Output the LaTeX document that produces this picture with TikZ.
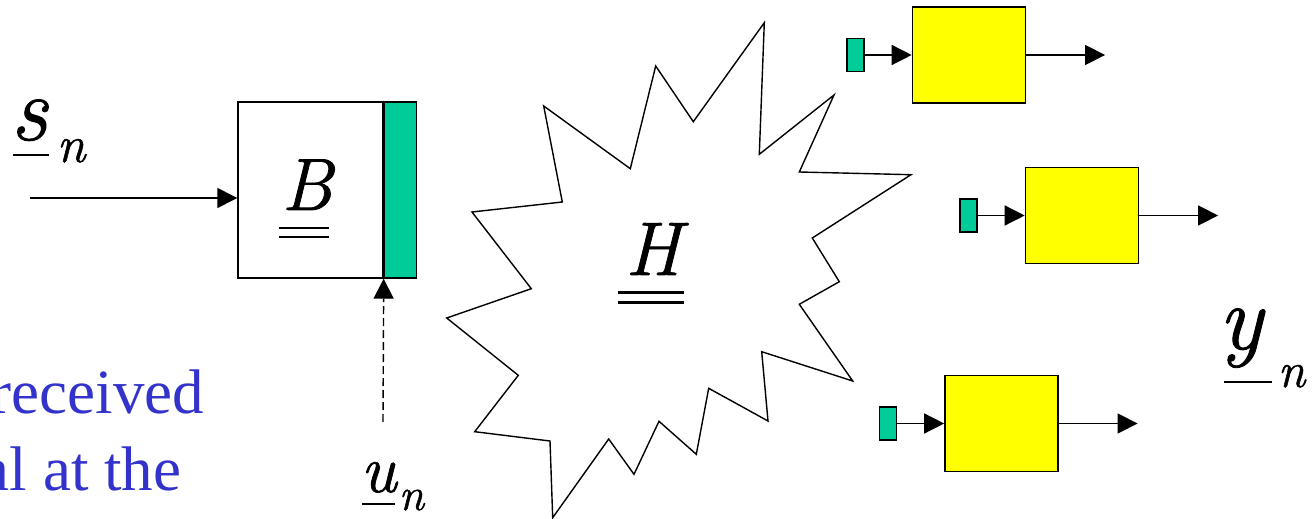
\documentclass[tikz,border=0pt]{standalone}
\usepackage{fontspec}
\setmainfont{Liberation Serif}
\newfontfamily\symfam{Latin Modern Roman}[FakeBold=1]
\usepackage{xcolor}
\usepackage{tikz}
\usetikzlibrary{positioning}
\usetikzlibrary{arrows.meta}

\definecolor{keygreen}{HTML}{00CC99}
\definecolor{rxyellow}{HTML}{FFFF00}
\definecolor{noteblue}{HTML}{3333CC}

\tikzset{
  blk/.style={draw,line width=0.7pt,inner sep=0pt},
  keybox/.style={blk,fill=keygreen,minimum width=8.5pt,minimum height=16.5pt},
  rxbox/.style={blk,fill=rxyellow,minimum width=56.5pt,minimum height=48pt},
  sym/.style={inner sep=0pt},
  uline/.style={line width=1.3pt},
}

\begin{document}
\begin{tikzpicture}[x=0.5pt,y=-0.5pt,line width=0.7pt,>={Triangle[length=10pt,width=10pt]}]
    \useasboundingbox (0,0) rectangle (1313,519);
    \clip (0,0) rectangle (1313,519);

    % precoder B with key strip
    \node[blk,minimum width=72.5pt,minimum height=88pt] (B) at (310.5,190) {};
    \node[blk,fill=keygreen,minimum width=16pt,minimum height=88pt,right=0pt of B] (key) {};
    \node[sym,font=\fontsize{37}{40}\selectfont\symfam\itshape,anchor=base] (Blbl) at (307,210) {B};
    \draw[uline] ([yshift=-9pt,xshift=-1pt]Blbl.base west) -- ([yshift=-9pt,xshift=-2pt]Blbl.base east);
    \draw[uline] ([yshift=-13.5pt,xshift=-1pt]Blbl.base west) -- ([yshift=-13.5pt,xshift=-2pt]Blbl.base east);

    % input s_n
    \coordinate (sin) at (30,198);
    \draw[->] (sin) -- (sin -| B.west);
    \node[sym,font=\fontsize{46}{48}\selectfont\symfam\itshape,anchor=base west] (s) at (10,140) {s};
    \node[sym,font=\fontsize{26}{28}\selectfont\symfam\itshape,anchor=base west] (sn) at (56,162) {n};
    \draw[uline] (13,155) -- (49,155);

    % key u_n
    \coordinate (uin) at (383,422);
    \draw[->,dash pattern=on 4pt off 2pt] (uin) -- (key.south west);
    \node[sym,font=\fontsize{34}{36}\selectfont\symfam\itshape,anchor=base west] (u) at (360,492) {u};
    \node[sym,font=\fontsize{23}{25}\selectfont\symfam\itshape,anchor=base west] (un) at (398,510) {n};
    \draw[uline] (362,504) -- (395,504);

    % note (cut off at the left)
    \node[anchor=base east,inner sep=0pt,text=noteblue,font=\fontsize{31.5}{34}\selectfont] (note1) at (205,413) {received};
    \node[anchor=base east,inner sep=0pt,text=noteblue,font=\fontsize{31.5}{34}\selectfont] (note2) at (182,490) {al at the};

    % channel H
    \draw[line width=0.7pt,fill=white] (764.3,22.7) -- (759.3,154.3) -- (834,95) -- (799.3,172)
        -- (911,174.7) -- (812.3,238) -- (839.3,281.7) -- (799.3,304.3) -- (852.7,381)
        -- (761.7,351.7) -- (768,421) -- (708.7,388.3) -- (696.3,454.3) -- (659,421.3)
        -- (634,474.3) -- (608.7,439) -- (552.7,517.7) -- (550,441) -- (474.7,431.7)
        -- (518.3,375.3) -- (446.7,318) -- (531.3,288.7) -- (472,212) -- (562.3,202)
        -- (543.7,106) -- (630.3,168.7) -- (655.7,66) -- (693.3,121.7) -- cycle;
    \node[sym,font=\fontsize{38}{41}\selectfont\symfam\itshape,anchor=base] (H) at (653,275) {H};
    \draw[uline] (618,292.7) -- (684,292.7);
    \draw[uline] (618,302.3) -- (684,302.3);

    % receivers
    \foreach \i/\gx/\gy in {1/855.5/55, 2/968.5/215.5, 3/888/423.5} {
        \node[keybox] (k\i) at (\gx,\gy) {};
        \node[rxbox,right=23.5pt of k\i] (rx\i) {};
        \coordinate[right=39.5pt of rx\i.east] (out\i);
        \draw[->] (k\i) -- (rx\i);
        \draw[->] (rx\i) -- (out\i);
    }

    % output y_n
    \node[sym,font=\fontsize{46}{48}\selectfont\symfam\itshape,anchor=base west] (y) at (1218,349) {y};
    \node[sym,font=\fontsize{25}{27}\selectfont\symfam\itshape,anchor=base west] (yn) at (1277,387) {n};
    \draw[uline] (1224,382) -- (1272,382);
\end{tikzpicture}
\end{document}
